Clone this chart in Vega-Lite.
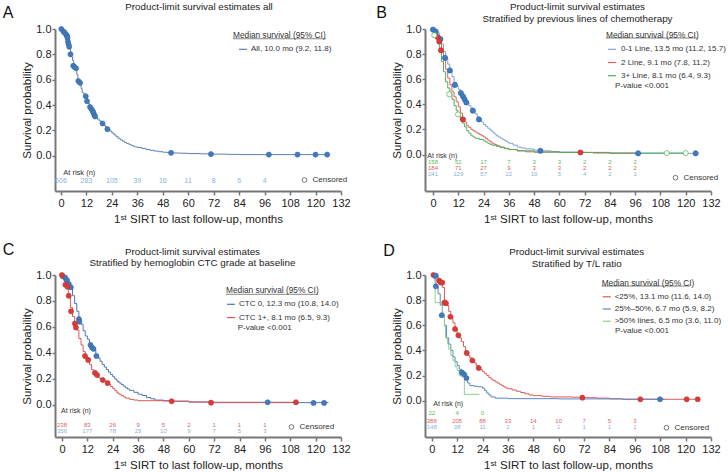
{
"$schema": "https://vega.github.io/schema/vega-lite/v6.json",
"background": "white",
"padding": {"left": 2, "top": 1, "right": 0, "bottom": 0},
"config": {
  "font": "Liberation Sans",
  "view": {"stroke": null},
  "axis": {"grid": false, "labelOverlap": false, "domainColor": "#777", "domainWidth": 2, "tickColor": "#777", "tickWidth": 1.5, "tickSize": 4, "labelFontSize": 11, "labelColor": "#222", "titleFontSize": 11.5, "titleFontWeight": "normal", "titleColor": "#222"},
  "axisX": {"labelPadding": 2, "titlePadding": 5, "labelFlush": false},
  "axisY": {"labelPadding": 1, "tickSize": 3, "titlePadding": 3},
  "title": {"fontSize": 9.8, "fontWeight": "normal", "color": "#222", "frame": "group", "lineHeight": 11.7},
  "legend": {"titleFontWeight": "normal", "titleFontSize": 8.3, "titleColor": "#333", "labelFontSize": 8, "labelColor": "#333", "padding": 0, "labelLimit": 400}
},
"datasets": {
  "Acurve": [
    {"g":"All","t":0,"s":1},{"g":"All","t":0.5,"s":0.99},{"g":"All","t":1,"s":0.985},{"g":"All","t":1.5,"s":0.975},{"g":"All","t":2,"s":0.96},{"g":"All","t":2.5,"s":0.95},{"g":"All","t":3,"s":0.93},{"g":"All","t":3.5,"s":0.89},{"g":"All","t":4,"s":0.86},{"g":"All","t":4.5,"s":0.82},{"g":"All","t":5,"s":0.78},{"g":"All","t":5.5,"s":0.75},{"g":"All","t":6,"s":0.715},{"g":"All","t":6.5,"s":0.7},{"g":"All","t":7,"s":0.68},{"g":"All","t":7.5,"s":0.64},{"g":"All","t":8,"s":0.6},{"g":"All","t":8.5,"s":0.585},{"g":"All","t":9,"s":0.57},{"g":"All","t":9.5,"s":0.53},{"g":"All","t":10,"s":0.5},{"g":"All","t":10.5,"s":0.495},{"g":"All","t":11,"s":0.48},{"g":"All","t":11.5,"s":0.47},{"g":"All","t":12,"s":0.455},{"g":"All","t":12.5,"s":0.43},{"g":"All","t":13,"s":0.41},{"g":"All","t":13.5,"s":0.39},{"g":"All","t":14,"s":0.375},{"g":"All","t":14.5,"s":0.36},{"g":"All","t":15,"s":0.345},{"g":"All","t":15.5,"s":0.33},{"g":"All","t":16,"s":0.31},{"g":"All","t":17,"s":0.29},{"g":"All","t":18,"s":0.275},{"g":"All","t":19,"s":0.26},{"g":"All","t":20,"s":0.24},{"g":"All","t":21,"s":0.225},{"g":"All","t":22,"s":0.21},{"g":"All","t":23,"s":0.195},{"g":"All","t":24,"s":0.18},{"g":"All","t":25,"s":0.165},{"g":"All","t":26,"s":0.15},{"g":"All","t":27,"s":0.137},{"g":"All","t":28,"s":0.125},{"g":"All","t":29,"s":0.115},{"g":"All","t":30,"s":0.105},{"g":"All","t":31,"s":0.097},{"g":"All","t":32,"s":0.09},{"g":"All","t":33,"s":0.082},{"g":"All","t":34,"s":0.075},{"g":"All","t":35,"s":0.07},{"g":"All","t":36,"s":0.065},{"g":"All","t":38,"s":0.058},{"g":"All","t":40,"s":0.05},{"g":"All","t":42,"s":0.043},{"g":"All","t":44,"s":0.037},{"g":"All","t":46,"s":0.032},{"g":"All","t":48,"s":0.028},{"g":"All","t":50,"s":0.025},{"g":"All","t":53,"s":0.022},{"g":"All","t":56,"s":0.02},{"g":"All","t":60,"s":0.017},{"g":"All","t":66,"s":0.015},{"g":"All","t":72,"s":0.013},{"g":"All","t":78,"s":0.011},{"g":"All","t":84,"s":0.009},{"g":"All","t":126,"s":0.009}
  ],
  "Acens": [
    {"g":"All","t":0.2,"s":1},{"g":"All","t":1.2,"s":0.98},{"g":"All","t":1.8,"s":0.97},{"g":"All","t":2.5,"s":0.955},{"g":"All","t":2.9,"s":0.945},{"g":"All","t":3.1,"s":0.93},{"g":"All","t":3.3,"s":0.9},{"g":"All","t":3.6,"s":0.88},{"g":"All","t":3.9,"s":0.86},{"g":"All","t":4.5,"s":0.8},{"g":"All","t":5.8,"s":0.71},{"g":"All","t":6.4,"s":0.7},{"g":"All","t":7.1,"s":0.69},{"g":"All","t":8.2,"s":0.59},{"g":"All","t":9,"s":0.575},{"g":"All","t":11.7,"s":0.47},{"g":"All","t":12.3,"s":0.43},{"g":"All","t":13.7,"s":0.385},{"g":"All","t":14.3,"s":0.37},{"g":"All","t":14.9,"s":0.355},{"g":"All","t":15.3,"s":0.34},{"g":"All","t":15.8,"s":0.32},{"g":"All","t":16.1,"s":0.31},{"g":"All","t":19.6,"s":0.255},{"g":"All","t":21.9,"s":0.21},{"g":"All","t":51.9,"s":0.023},{"g":"All","t":70.7,"s":0.013},{"g":"All","t":98,"s":0.009},{"g":"All","t":111.5,"s":0.009},{"g":"All","t":120,"s":0.009},{"g":"All","t":125.5,"s":0.009}
  ],
  "Arisk": [
    {"g":"All","t":0,"n":606},{"g":"All","t":12,"n":283},{"g":"All","t":24,"n":105},{"g":"All","t":36,"n":39},{"g":"All","t":48,"n":16},{"g":"All","t":60,"n":11},{"g":"All","t":72,"n":8},{"g":"All","t":84,"n":6},{"g":"All","t":96,"n":4}
  ],
  "Bcurve": [
    {"g":"0-1 Line","t":0,"s":1},{"g":"0-1 Line","t":1,"s":0.99},{"g":"0-1 Line","t":2,"s":0.97},{"g":"0-1 Line","t":3,"s":0.94},{"g":"0-1 Line","t":3.5,"s":0.92},{"g":"0-1 Line","t":4,"s":0.88},{"g":"0-1 Line","t":5,"s":0.82},{"g":"0-1 Line","t":6,"s":0.77},{"g":"0-1 Line","t":7,"s":0.72},{"g":"0-1 Line","t":8,"s":0.67},{"g":"0-1 Line","t":9,"s":0.62},{"g":"0-1 Line","t":10,"s":0.575},{"g":"0-1 Line","t":11,"s":0.545},{"g":"0-1 Line","t":12,"s":0.52},{"g":"0-1 Line","t":13,"s":0.5},{"g":"0-1 Line","t":14,"s":0.47},{"g":"0-1 Line","t":15,"s":0.44},{"g":"0-1 Line","t":16,"s":0.415},{"g":"0-1 Line","t":17,"s":0.39},{"g":"0-1 Line","t":18,"s":0.37},{"g":"0-1 Line","t":19,"s":0.35},{"g":"0-1 Line","t":20,"s":0.325},{"g":"0-1 Line","t":21,"s":0.3},{"g":"0-1 Line","t":22,"s":0.28},{"g":"0-1 Line","t":23,"s":0.26},{"g":"0-1 Line","t":24,"s":0.24},{"g":"0-1 Line","t":25,"s":0.225},{"g":"0-1 Line","t":26,"s":0.21},{"g":"0-1 Line","t":27,"s":0.195},{"g":"0-1 Line","t":28,"s":0.18},{"g":"0-1 Line","t":29,"s":0.165},{"g":"0-1 Line","t":30,"s":0.15},{"g":"0-1 Line","t":31,"s":0.14},{"g":"0-1 Line","t":32,"s":0.13},{"g":"0-1 Line","t":33,"s":0.12},{"g":"0-1 Line","t":34,"s":0.11},{"g":"0-1 Line","t":35,"s":0.1},{"g":"0-1 Line","t":36,"s":0.09},{"g":"0-1 Line","t":38,"s":0.075},{"g":"0-1 Line","t":40,"s":0.06},{"g":"0-1 Line","t":42,"s":0.052},{"g":"0-1 Line","t":44,"s":0.045},{"g":"0-1 Line","t":48,"s":0.035},{"g":"0-1 Line","t":52,"s":0.03},{"g":"0-1 Line","t":56,"s":0.025},{"g":"0-1 Line","t":60,"s":0.02},{"g":"0-1 Line","t":72,"s":0.017},{"g":"0-1 Line","t":84,"s":0.012},{"g":"0-1 Line","t":96,"s":0.01},{"g":"0-1 Line","t":126,"s":0.01},
    {"g":"2 Line","t":0,"s":1},{"g":"2 Line","t":1,"s":0.97},{"g":"2 Line","t":2,"s":0.94},{"g":"2 Line","t":3,"s":0.9},{"g":"2 Line","t":4,"s":0.83},{"g":"2 Line","t":5,"s":0.75},{"g":"2 Line","t":6,"s":0.68},{"g":"2 Line","t":7,"s":0.61},{"g":"2 Line","t":8,"s":0.555},{"g":"2 Line","t":9,"s":0.5},{"g":"2 Line","t":10,"s":0.46},{"g":"2 Line","t":11,"s":0.42},{"g":"2 Line","t":12,"s":0.38},{"g":"2 Line","t":13,"s":0.33},{"g":"2 Line","t":14,"s":0.29},{"g":"2 Line","t":15,"s":0.26},{"g":"2 Line","t":16,"s":0.23},{"g":"2 Line","t":17,"s":0.215},{"g":"2 Line","t":18,"s":0.2},{"g":"2 Line","t":19,"s":0.19},{"g":"2 Line","t":20,"s":0.18},{"g":"2 Line","t":21,"s":0.17},{"g":"2 Line","t":22,"s":0.16},{"g":"2 Line","t":23,"s":0.15},{"g":"2 Line","t":24,"s":0.14},{"g":"2 Line","t":25,"s":0.127},{"g":"2 Line","t":26,"s":0.115},{"g":"2 Line","t":27,"s":0.102},{"g":"2 Line","t":28,"s":0.09},{"g":"2 Line","t":29,"s":0.082},{"g":"2 Line","t":30,"s":0.075},{"g":"2 Line","t":31,"s":0.067},{"g":"2 Line","t":32,"s":0.06},{"g":"2 Line","t":34,"s":0.05},{"g":"2 Line","t":36,"s":0.04},{"g":"2 Line","t":40,"s":0.03},{"g":"2 Line","t":44,"s":0.022},{"g":"2 Line","t":48,"s":0.02},{"g":"2 Line","t":60,"s":0.017},{"g":"2 Line","t":72,"s":0.017},{"g":"2 Line","t":76,"s":0.012},{"g":"2 Line","t":84,"s":0.01},{"g":"2 Line","t":96,"s":0.01},
    {"g":"3+ Line","t":0,"s":1},{"g":"3+ Line","t":0.5,"s":0.96},{"g":"3+ Line","t":1,"s":0.94},{"g":"3+ Line","t":2,"s":0.89},{"g":"3+ Line","t":3,"s":0.82},{"g":"3+ Line","t":4,"s":0.74},{"g":"3+ Line","t":5,"s":0.66},{"g":"3+ Line","t":6,"s":0.58},{"g":"3+ Line","t":7,"s":0.53},{"g":"3+ Line","t":8,"s":0.49},{"g":"3+ Line","t":9,"s":0.44},{"g":"3+ Line","t":10,"s":0.39},{"g":"3+ Line","t":11,"s":0.35},{"g":"3+ Line","t":12,"s":0.32},{"g":"3+ Line","t":13,"s":0.28},{"g":"3+ Line","t":14,"s":0.25},{"g":"3+ Line","t":15,"s":0.22},{"g":"3+ Line","t":16,"s":0.19},{"g":"3+ Line","t":17,"s":0.17},{"g":"3+ Line","t":18,"s":0.15},{"g":"3+ Line","t":19,"s":0.14},{"g":"3+ Line","t":20,"s":0.13},{"g":"3+ Line","t":22,"s":0.12},{"g":"3+ Line","t":24,"s":0.11},{"g":"3+ Line","t":25,"s":0.1},{"g":"3+ Line","t":26,"s":0.09},{"g":"3+ Line","t":27,"s":0.082},{"g":"3+ Line","t":28,"s":0.075},{"g":"3+ Line","t":30,"s":0.065},{"g":"3+ Line","t":32,"s":0.055},{"g":"3+ Line","t":34,"s":0.047},{"g":"3+ Line","t":36,"s":0.04},{"g":"3+ Line","t":40,"s":0.03},{"g":"3+ Line","t":48,"s":0.02},{"g":"3+ Line","t":60,"s":0.017},{"g":"3+ Line","t":84,"s":0.012},{"g":"3+ Line","t":120,"s":0.012}
  ],
  "Bcens": [
    {"g":"0-1 Line","t":0,"s":0.995},{"g":"0-1 Line","t":1.3,"s":0.98},{"g":"0-1 Line","t":3.5,"s":0.92},{"g":"0-1 Line","t":5.7,"s":0.77},{"g":"0-1 Line","t":8,"s":0.67},{"g":"0-1 Line","t":10.4,"s":0.555},{"g":"0-1 Line","t":13.2,"s":0.49},{"g":"0-1 Line","t":14.2,"s":0.465},{"g":"0-1 Line","t":15,"s":0.44},{"g":"0-1 Line","t":15.8,"s":0.415},{"g":"0-1 Line","t":18.9,"s":0.35},{"g":"0-1 Line","t":21.8,"s":0.28},{"g":"0-1 Line","t":51,"s":0.03},{"g":"0-1 Line","t":97.4,"s":0.01},{"g":"0-1 Line","t":124.7,"s":0.01},
    {"g":"2 Line","t":2.2,"s":0.936},{"g":"2 Line","t":3,"s":0.9},{"g":"2 Line","t":3.8,"s":0.83},{"g":"2 Line","t":14.2,"s":0.28},{"g":"2 Line","t":70,"s":0.017},
    {"g":"3+ Line","t":0.6,"s":0.95},{"g":"3+ Line","t":7.7,"s":0.48},{"g":"3+ Line","t":11.9,"s":0.32},{"g":"3+ Line","t":111,"s":0.012},{"g":"3+ Line","t":120,"s":0.012}
  ],
  "Brisk": [
    {"g":"3+ Line","t":0,"n":158},{"g":"3+ Line","t":12,"n":52},{"g":"3+ Line","t":24,"n":17},{"g":"3+ Line","t":36,"n":7},{"g":"3+ Line","t":48,"n":3},{"g":"3+ Line","t":60,"n":3},{"g":"3+ Line","t":72,"n":2},{"g":"3+ Line","t":84,"n":2},{"g":"3+ Line","t":96,"n":2},
    {"g":"2 Line","t":0,"n":184},{"g":"2 Line","t":12,"n":71},{"g":"2 Line","t":24,"n":27},{"g":"2 Line","t":36,"n":9},{"g":"2 Line","t":48,"n":3},{"g":"2 Line","t":60,"n":3},{"g":"2 Line","t":72,"n":2},{"g":"2 Line","t":84,"n":2},{"g":"2 Line","t":96,"n":2},
    {"g":"0-1 Line","t":0,"n":241},{"g":"0-1 Line","t":12,"n":129},{"g":"0-1 Line","t":24,"n":57},{"g":"0-1 Line","t":36,"n":22},{"g":"0-1 Line","t":48,"n":10},{"g":"0-1 Line","t":60,"n":5},{"g":"0-1 Line","t":72,"n":4},{"g":"0-1 Line","t":84,"n":2},{"g":"0-1 Line","t":96,"n":2}
  ],
  "Ccurve": [
    {"g":"CTC 0","t":0,"s":1},{"g":"CTC 0","t":1,"s":0.99},{"g":"CTC 0","t":2,"s":0.97},{"g":"CTC 0","t":3,"s":0.94},{"g":"CTC 0","t":4,"s":0.9},{"g":"CTC 0","t":5,"s":0.84},{"g":"CTC 0","t":6,"s":0.78},{"g":"CTC 0","t":7,"s":0.72},{"g":"CTC 0","t":8,"s":0.66},{"g":"CTC 0","t":9,"s":0.62},{"g":"CTC 0","t":10,"s":0.57},{"g":"CTC 0","t":11,"s":0.53},{"g":"CTC 0","t":12,"s":0.505},{"g":"CTC 0","t":13,"s":0.475},{"g":"CTC 0","t":14,"s":0.445},{"g":"CTC 0","t":15,"s":0.42},{"g":"CTC 0","t":16,"s":0.385},{"g":"CTC 0","t":17,"s":0.36},{"g":"CTC 0","t":18,"s":0.335},{"g":"CTC 0","t":19,"s":0.31},{"g":"CTC 0","t":20,"s":0.29},{"g":"CTC 0","t":21,"s":0.27},{"g":"CTC 0","t":22,"s":0.25},{"g":"CTC 0","t":23,"s":0.232},{"g":"CTC 0","t":24,"s":0.215},{"g":"CTC 0","t":25,"s":0.197},{"g":"CTC 0","t":26,"s":0.18},{"g":"CTC 0","t":27,"s":0.167},{"g":"CTC 0","t":28,"s":0.155},{"g":"CTC 0","t":29,"s":0.142},{"g":"CTC 0","t":30,"s":0.13},{"g":"CTC 0","t":31,"s":0.12},{"g":"CTC 0","t":32,"s":0.11},{"g":"CTC 0","t":34,"s":0.095},{"g":"CTC 0","t":36,"s":0.08},{"g":"CTC 0","t":38,"s":0.07},{"g":"CTC 0","t":40,"s":0.055},{"g":"CTC 0","t":42,"s":0.045},{"g":"CTC 0","t":44,"s":0.035},{"g":"CTC 0","t":48,"s":0.03},{"g":"CTC 0","t":52,"s":0.026},{"g":"CTC 0","t":60,"s":0.02},{"g":"CTC 0","t":72,"s":0.018},{"g":"CTC 0","t":96,"s":0.018},{"g":"CTC 0","t":110,"s":0.015},{"g":"CTC 0","t":126,"s":0.013},
    {"g":"CTC 1+","t":0,"s":1},{"g":"CTC 1+","t":1,"s":0.95},{"g":"CTC 1+","t":2,"s":0.91},{"g":"CTC 1+","t":3,"s":0.85},{"g":"CTC 1+","t":4,"s":0.75},{"g":"CTC 1+","t":5,"s":0.68},{"g":"CTC 1+","t":6,"s":0.63},{"g":"CTC 1+","t":7,"s":0.575},{"g":"CTC 1+","t":8,"s":0.51},{"g":"CTC 1+","t":9,"s":0.46},{"g":"CTC 1+","t":10,"s":0.41},{"g":"CTC 1+","t":11,"s":0.37},{"g":"CTC 1+","t":12,"s":0.35},{"g":"CTC 1+","t":13,"s":0.31},{"g":"CTC 1+","t":14,"s":0.27},{"g":"CTC 1+","t":15,"s":0.25},{"g":"CTC 1+","t":16,"s":0.23},{"g":"CTC 1+","t":17,"s":0.21},{"g":"CTC 1+","t":18,"s":0.2},{"g":"CTC 1+","t":19,"s":0.19},{"g":"CTC 1+","t":20,"s":0.18},{"g":"CTC 1+","t":21,"s":0.167},{"g":"CTC 1+","t":22,"s":0.155},{"g":"CTC 1+","t":23,"s":0.14},{"g":"CTC 1+","t":24,"s":0.125},{"g":"CTC 1+","t":25,"s":0.107},{"g":"CTC 1+","t":26,"s":0.09},{"g":"CTC 1+","t":27,"s":0.08},{"g":"CTC 1+","t":28,"s":0.07},{"g":"CTC 1+","t":29,"s":0.06},{"g":"CTC 1+","t":30,"s":0.05},{"g":"CTC 1+","t":32,"s":0.04},{"g":"CTC 1+","t":34,"s":0.035},{"g":"CTC 1+","t":36,"s":0.03},{"g":"CTC 1+","t":48,"s":0.028},{"g":"CTC 1+","t":52,"s":0.026},{"g":"CTC 1+","t":60,"s":0.02},{"g":"CTC 1+","t":70,"s":0.015},{"g":"CTC 1+","t":110,"s":0.015}
  ],
  "Ccens": [
    {"g":"CTC 0","t":0.4,"s":0.99},{"g":"CTC 0","t":1.5,"s":0.98},{"g":"CTC 0","t":2.4,"s":0.96},{"g":"CTC 0","t":3.2,"s":0.93},{"g":"CTC 0","t":4.2,"s":0.905},{"g":"CTC 0","t":8,"s":0.66},{"g":"CTC 0","t":8.2,"s":0.64},{"g":"CTC 0","t":13.5,"s":0.46},{"g":"CTC 0","t":14.2,"s":0.44},{"g":"CTC 0","t":14.9,"s":0.43},{"g":"CTC 0","t":16.3,"s":0.375},{"g":"CTC 0","t":97.3,"s":0.018},{"g":"CTC 0","t":119,"s":0.013},{"g":"CTC 0","t":124,"s":0.013},
    {"g":"CTC 1+","t":0,"s":1},{"g":"CTC 1+","t":1.6,"s":0.925},{"g":"CTC 1+","t":2.6,"s":0.91},{"g":"CTC 1+","t":3.2,"s":0.84},{"g":"CTC 1+","t":4.3,"s":0.72},{"g":"CTC 1+","t":6.1,"s":0.625},{"g":"CTC 1+","t":6.6,"s":0.595},{"g":"CTC 1+","t":10.9,"s":0.375},{"g":"CTC 1+","t":12.4,"s":0.345},{"g":"CTC 1+","t":15.6,"s":0.245},{"g":"CTC 1+","t":16.6,"s":0.228},{"g":"CTC 1+","t":19.3,"s":0.19},{"g":"CTC 1+","t":21.6,"s":0.166},{"g":"CTC 1+","t":51.9,"s":0.026},{"g":"CTC 1+","t":70.5,"s":0.015},{"g":"CTC 1+","t":110.7,"s":0.018}
  ],
  "Crisk": [
    {"g":"CTC 1+","t":0,"n":238},{"g":"CTC 1+","t":12,"n":83},{"g":"CTC 1+","t":24,"n":26},{"g":"CTC 1+","t":36,"n":9},{"g":"CTC 1+","t":48,"n":5},{"g":"CTC 1+","t":60,"n":2},{"g":"CTC 1+","t":72,"n":1},{"g":"CTC 1+","t":84,"n":1},{"g":"CTC 1+","t":96,"n":1},
    {"g":"CTC 0","t":0,"n":356},{"g":"CTC 0","t":12,"n":177},{"g":"CTC 0","t":24,"n":78},{"g":"CTC 0","t":36,"n":29},{"g":"CTC 0","t":48,"n":10},{"g":"CTC 0","t":60,"n":9},{"g":"CTC 0","t":72,"n":7},{"g":"CTC 0","t":84,"n":5},{"g":"CTC 0","t":96,"n":3}
  ],
  "Dcurve": [
    {"g":"<25%","t":0,"s":1},{"g":"<25%","t":2,"s":0.99},{"g":"<25%","t":3,"s":0.97},{"g":"<25%","t":4,"s":0.95},{"g":"<25%","t":5,"s":0.9},{"g":"<25%","t":6,"s":0.8},{"g":"<25%","t":7,"s":0.76},{"g":"<25%","t":8,"s":0.71},{"g":"<25%","t":9,"s":0.67},{"g":"<25%","t":10,"s":0.62},{"g":"<25%","t":11,"s":0.57},{"g":"<25%","t":12,"s":0.53},{"g":"<25%","t":13,"s":0.5},{"g":"<25%","t":14,"s":0.47},{"g":"<25%","t":15,"s":0.43},{"g":"<25%","t":16,"s":0.39},{"g":"<25%","t":17,"s":0.36},{"g":"<25%","t":18,"s":0.34},{"g":"<25%","t":19,"s":0.32},{"g":"<25%","t":20,"s":0.3},{"g":"<25%","t":21,"s":0.28},{"g":"<25%","t":22,"s":0.26},{"g":"<25%","t":23,"s":0.245},{"g":"<25%","t":24,"s":0.23},{"g":"<25%","t":25,"s":0.215},{"g":"<25%","t":26,"s":0.2},{"g":"<25%","t":27,"s":0.185},{"g":"<25%","t":28,"s":0.17},{"g":"<25%","t":29,"s":0.16},{"g":"<25%","t":30,"s":0.15},{"g":"<25%","t":31,"s":0.14},{"g":"<25%","t":32,"s":0.13},{"g":"<25%","t":33,"s":0.12},{"g":"<25%","t":34,"s":0.11},{"g":"<25%","t":35,"s":0.1},{"g":"<25%","t":36,"s":0.095},{"g":"<25%","t":38,"s":0.085},{"g":"<25%","t":40,"s":0.075},{"g":"<25%","t":42,"s":0.065},{"g":"<25%","t":44,"s":0.055},{"g":"<25%","t":46,"s":0.045},{"g":"<25%","t":48,"s":0.04},{"g":"<25%","t":52,"s":0.035},{"g":"<25%","t":56,"s":0.03},{"g":"<25%","t":66,"s":0.028},{"g":"<25%","t":72,"s":0.024},{"g":"<25%","t":78,"s":0.02},{"g":"<25%","t":84,"s":0.015},{"g":"<25%","t":90,"s":0.011},{"g":"<25%","t":126,"s":0.011},
    {"g":"25%–50%","t":0,"s":1},{"g":"25%–50%","t":1,"s":0.97},{"g":"25%–50%","t":2,"s":0.91},{"g":"25%–50%","t":3,"s":0.85},{"g":"25%–50%","t":4,"s":0.76},{"g":"25%–50%","t":5,"s":0.68},{"g":"25%–50%","t":6,"s":0.6},{"g":"25%–50%","t":7,"s":0.5},{"g":"25%–50%","t":8,"s":0.45},{"g":"25%–50%","t":9,"s":0.4},{"g":"25%–50%","t":10,"s":0.35},{"g":"25%–50%","t":11,"s":0.31},{"g":"25%–50%","t":12,"s":0.28},{"g":"25%–50%","t":13,"s":0.25},{"g":"25%–50%","t":14,"s":0.23},{"g":"25%–50%","t":15,"s":0.21},{"g":"25%–50%","t":16,"s":0.18},{"g":"25%–50%","t":17,"s":0.14},{"g":"25%–50%","t":18,"s":0.12},{"g":"25%–50%","t":20,"s":0.115},{"g":"25%–50%","t":22,"s":0.11},{"g":"25%–50%","t":24,"s":0.1},{"g":"25%–50%","t":25,"s":0.08},{"g":"25%–50%","t":26,"s":0.06},{"g":"25%–50%","t":27,"s":0.045},{"g":"25%–50%","t":28,"s":0.03},{"g":"25%–50%","t":30,"s":0.02},{"g":"25%–50%","t":36,"s":0.016},{"g":"25%–50%","t":60,"s":0.014},{"g":"25%–50%","t":90,"s":0.012},{"g":"25%–50%","t":110,"s":0.011},
    {"g":">50% lines","t":0,"s":1},{"g":">50% lines","t":1.2,"s":0.955},{"g":">50% lines","t":1.6,"s":0.78},{"g":">50% lines","t":4,"s":0.78},{"g":">50% lines","t":5,"s":0.68},{"g":">50% lines","t":6,"s":0.59},{"g":">50% lines","t":6.5,"s":0.5},{"g":">50% lines","t":7.5,"s":0.45},{"g":">50% lines","t":8,"s":0.41},{"g":">50% lines","t":9,"s":0.36},{"g":">50% lines","t":10,"s":0.32},{"g":">50% lines","t":11,"s":0.27},{"g":">50% lines","t":12,"s":0.24},{"g":">50% lines","t":13,"s":0.2},{"g":">50% lines","t":14,"s":0.19},{"g":">50% lines","t":15.4,"s":0.05},{"g":">50% lines","t":22.5,"s":0.05}
  ],
  "Dcens": [
    {"g":"<25%","t":0.8,"s":1},{"g":"<25%","t":3.5,"s":0.955},{"g":"<25%","t":4.2,"s":0.94},{"g":"<25%","t":5,"s":0.94},{"g":"<25%","t":6,"s":0.78},{"g":"<25%","t":6.7,"s":0.775},{"g":"<25%","t":8.8,"s":0.668},{"g":"<25%","t":11,"s":0.57},{"g":"<25%","t":12.6,"s":0.52},{"g":"<25%","t":16.5,"s":0.38},{"g":"<25%","t":19.2,"s":0.32},{"g":"<25%","t":22.2,"s":0.26},{"g":"<25%","t":71.2,"s":0.024},{"g":"<25%","t":98.6,"s":0.011},{"g":"<25%","t":120.5,"s":0.011},{"g":"<25%","t":125.7,"s":0.011},
    {"g":"25%–50%","t":1.9,"s":0.995},{"g":"25%–50%","t":1.9,"s":0.91},{"g":"25%–50%","t":4.7,"s":0.68},{"g":"25%–50%","t":14.2,"s":0.225},{"g":"25%–50%","t":15.3,"s":0.21},{"g":"25%–50%","t":16.4,"s":0.18},{"g":"25%–50%","t":107.9,"s":0.011}
  ],
  "Drisk": [
    {"g":">50% lines","t":0,"n":22},{"g":">50% lines","t":12,"n":4},{"g":">50% lines","t":24,"n":0},
    {"g":"<25%","t":0,"n":388},{"g":"<25%","t":12,"n":205},{"g":"<25%","t":24,"n":88},{"g":"<25%","t":36,"n":33},{"g":"<25%","t":48,"n":14},{"g":"<25%","t":60,"n":10},{"g":"<25%","t":72,"n":7},{"g":"<25%","t":84,"n":5},{"g":"<25%","t":96,"n":3},
    {"g":"25%–50%","t":0,"n":148},{"g":"25%–50%","t":12,"n":38},{"g":"25%–50%","t":24,"n":11},{"g":"25%–50%","t":36,"n":2},{"g":"25%–50%","t":48,"n":1},{"g":"25%–50%","t":60,"n":1},{"g":"25%–50%","t":72,"n":1},{"g":"25%–50%","t":84,"n":1},{"g":"25%–50%","t":96,"n":1}
  ]
},
"columns": 2,
"spacing": {"row": 84, "column": 84},
"bounds": "flush",
"resolve": {
  "scale": {"x": "independent", "y": "independent", "color": "independent", "fill": "independent", "stroke": "independent", "shape": "independent"},
  "legend": {"color": "independent", "fill": "independent", "stroke": "independent", "shape": "independent"},
  "axis": {"x": "independent", "y": "independent"}
},
"concat": [
  {
    "width": 286, "height": 162,
    "title": {"text": "Product-limit survival estimates all", "offset": -6.5, "dx": 1},
    "layer": [
      {"data": {"name": "Acurve"}, "mark": {"type": "line", "interpolate": "step-after", "strokeWidth": 1},
       "encoding": {
         "x": {"field": "t", "type": "quantitative", "scale": {"domain": [-2.8, 132], "nice": false, "zero": false}, "axis": {"values": [0,12,24,36,48,60,72,84,96,108,120,132], "tickCount": 20, "title": "1ˢᵗ SIRT to last follow-up, months"}},
         "y": {"field": "s", "type": "quantitative", "scale": {"domain": [-0.278, 1], "nice": false, "zero": false}, "axis": {"values": [0,0.2,0.4,0.6,0.8,1], "tickCount": 20, "format": ".1f", "title": "Survival probability"}},
         "color": {"field": "g", "type": "nominal", "scale": {"domain": ["All"], "range": ["#5b80b6"]}, "legend": {"orient": "none", "legendX": 178, "legendY": 2, "title": "Median survival (95% CI)", "symbolType": "stroke", "symbolSize": 64, "symbolStrokeWidth": 1.2, "symbolOffset": 5, "labelOffset": 3, "titlePadding": 5, "rowPadding": 4, "labelExpr": "'All, 10.0 mo (9.2, 11.8)'"}}
       }},
      {"data": {"name": "Acens"}, "mark": {"type": "point", "filled": true, "size": 26, "opacity": 1, "strokeWidth": 0.6},
       "encoding": {
         "x": {"field": "t", "type": "quantitative"},
         "y": {"field": "s", "type": "quantitative"},
         "fill": {"field": "g", "type": "nominal", "scale": {"domain": ["All"], "range": ["#4479bb"]}, "legend": null},
         "stroke": {"field": "g", "type": "nominal", "scale": {"domain": ["All"], "range": ["#356aa8"]}, "legend": null},
         "shape": {"datum": "Censored", "scale": {"range": ["circle"]}, "legend": {"orient": "none", "legendX": 245.5, "legendY": 147, "title": null, "symbolFillColor": "white", "symbolStrokeColor": "#555", "symbolStrokeWidth": 0.8, "symbolSize": 22, "labelOffset": 4, "labelFontSize": 8}}
       }},
      {"data": {"values": [{}]}, "mark": {"type": "rule", "color": "#555", "strokeWidth": 0.7},
       "encoding": {"x": {"datum": 81.1, "type": "quantitative"}, "x2": {"datum": 124.9}, "y": {"datum": 0.923, "type": "quantitative"}}},
      {"data": {"values": [{"label": "At risk (n)"}]}, "mark": {"type": "text", "align": "left", "baseline": "middle", "fontSize": 7.5, "color": "#333"},
       "encoding": {"x": {"datum": 1.1, "type": "quantitative"}, "y": {"datum": -0.133, "type": "quantitative"}, "text": {"field": "label"}}},
      {"data": {"name": "Arisk"}, "mark": {"type": "text", "align": "center", "baseline": "middle", "fontSize": 7, "color": "#8ab0dd"},
       "encoding": {"x": {"field": "t", "type": "quantitative"}, "y": {"datum": -0.199, "type": "quantitative"}, "text": {"field": "n"}}},
      {"data": {"values": [{"label": "A"}]}, "mark": {"type": "text", "align": "center", "baseline": "middle", "fontSize": 16, "color": "#111"},
       "encoding": {"x": {"datum": -24.95, "type": "quantitative"}, "y": {"datum": 1.126, "type": "quantitative"}, "text": {"field": "label"}}}
    ]
  },
  {
    "width": 286, "height": 162,
    "title": {"text": ["Product-limit survival estimates", "Stratified by previous lines of chemotherapy"], "offset": -18.8, "dx": 9.5},
    "layer": [
      {"data": {"name": "Bcurve"}, "mark": {"type": "line", "interpolate": "step-after", "strokeWidth": 1},
       "encoding": {
         "x": {"field": "t", "type": "quantitative", "scale": {"domain": [-3.8, 132], "nice": false, "zero": false}, "axis": {"values": [0,12,24,36,48,60,72,84,96,108,120,132], "tickCount": 20, "title": "1ˢᵗ SIRT to last follow-up, months"}},
         "y": {"field": "s", "type": "quantitative", "scale": {"domain": [-0.29, 1], "nice": false, "zero": false}, "axis": {"values": [0,0.2,0.4,0.6,0.8,1], "tickCount": 20, "format": ".1f", "title": "Survival probability"}},
         "color": {"field": "g", "type": "nominal", "scale": {"domain": ["0-1 Line", "2 Line", "3+ Line"], "range": ["#7fa3d6", "#e06060", "#4fae5f"]}, "legend": {"orient": "none", "legendX": 181, "legendY": 2, "title": "Median survival (95% CI)", "symbolType": "stroke", "symbolSize": 64, "symbolStrokeWidth": 1.2, "symbolOffset": 1, "labelOffset": 4, "titlePadding": 5, "rowPadding": 4.2, "labelExpr": "datum.label == '0-1 Line' ? '0-1 Line, 13.5 mo (11.2, 15.7)' : datum.label == '2 Line' ? '2 Line, 9.1 mo (7.8, 11.2)' : '3+ Line, 8.1 mo (6.4, 9.3)'"}}
       }},
      {"data": {"name": "Bcens"}, "mark": {"type": "point", "filled": true, "size": 26, "opacity": 1, "strokeWidth": 0.8},
       "encoding": {
         "x": {"field": "t", "type": "quantitative"},
         "y": {"field": "s", "type": "quantitative"},
         "fill": {"field": "g", "type": "nominal", "scale": {"domain": ["0-1 Line", "2 Line", "3+ Line"], "range": ["#3f7bc4", "#da3b3b", "#ffffff"]}, "legend": null},
         "stroke": {"field": "g", "type": "nominal", "scale": {"domain": ["0-1 Line", "2 Line", "3+ Line"], "range": ["#356aa8", "#c43030", "#5cb85c"]}, "legend": null},
         "shape": {"datum": "Censored", "scale": {"range": ["circle"]}, "legend": {"orient": "none", "legendX": 246.5, "legendY": 144.7, "title": null, "symbolFillColor": "white", "symbolStrokeColor": "#555", "symbolStrokeWidth": 0.8, "symbolSize": 22, "labelOffset": 4, "labelFontSize": 8}}
       }},
      {"data": {"values": [{}]}, "mark": {"type": "rule", "color": "#555", "strokeWidth": 0.7},
       "encoding": {"x": {"datum": 82.1, "type": "quantitative"}, "x2": {"datum": 125.8}, "y": {"datum": 0.928, "type": "quantitative"}}},
      {"data": {"values": [{"label": "P-value <0.001"}]}, "mark": {"type": "text", "align": "left", "baseline": "middle", "fontSize": 8, "color": "#333"},
       "encoding": {"x": {"datum": 86.4, "type": "quantitative"}, "y": {"datum": 0.546, "type": "quantitative"}, "text": {"field": "label"}}},
      {"data": {"values": [{"label": "At risk (n)"}]}, "mark": {"type": "text", "align": "left", "baseline": "middle", "fontSize": 7, "color": "#333"},
       "encoding": {"x": {"datum": -2.7, "type": "quantitative"}, "y": {"datum": -0.015, "type": "quantitative"}, "text": {"field": "label"}}},
      {"data": {"name": "Brisk"}, "transform": [{"filter": "datum.g == '3+ Line'"}], "mark": {"type": "text", "align": "center", "baseline": "middle", "fontSize": 6, "color": "#5cb85c"},
       "encoding": {"x": {"field": "t", "type": "quantitative"}, "y": {"datum": -0.063, "type": "quantitative"}, "text": {"field": "n"}}},
      {"data": {"name": "Brisk"}, "transform": [{"filter": "datum.g == '2 Line'"}], "mark": {"type": "text", "align": "center", "baseline": "middle", "fontSize": 6, "color": "#e06060"},
       "encoding": {"x": {"field": "t", "type": "quantitative"}, "y": {"datum": -0.11, "type": "quantitative"}, "text": {"field": "n"}}},
      {"data": {"name": "Brisk"}, "transform": [{"filter": "datum.g == '0-1 Line'"}], "mark": {"type": "text", "align": "center", "baseline": "middle", "fontSize": 6, "color": "#8ab0dd"},
       "encoding": {"x": {"field": "t", "type": "quantitative"}, "y": {"datum": -0.156, "type": "quantitative"}, "text": {"field": "n"}}},
      {"data": {"values": [{"label": "B"}]}, "mark": {"type": "text", "align": "center", "baseline": "middle", "fontSize": 16, "color": "#111"},
       "encoding": {"x": {"datum": -24.4, "type": "quantitative"}, "y": {"datum": 1.127, "type": "quantitative"}, "text": {"field": "label"}}}
    ]
  },
  {
    "width": 286, "height": 162,
    "title": {"text": ["Product-limit survival estimates", "Stratified by hemoglobin CTC grade at baseline"], "offset": -26.2, "dx": -5.5},
    "layer": [
      {"data": {"name": "Ccurve"}, "mark": {"type": "line", "interpolate": "step-after", "strokeWidth": 1},
       "encoding": {
         "x": {"field": "t", "type": "quantitative", "scale": {"domain": [-3.3, 132], "nice": false, "zero": false}, "axis": {"values": [0,12,24,36,48,60,72,84,96,108,120,132], "tickCount": 20, "title": "1ˢᵗ SIRT to last follow-up, months"}},
         "y": {"field": "s", "type": "quantitative", "scale": {"domain": [-0.25, 1], "nice": false, "zero": false}, "axis": {"values": [0,0.2,0.4,0.6,0.8,1], "tickCount": 20, "format": ".1f", "title": "Survival probability"}},
         "color": {"field": "g", "type": "nominal", "scale": {"domain": ["CTC 0", "CTC 1+"], "range": ["#4d76b3", "#e05656"]}, "legend": {"orient": "none", "legendX": 171, "legendY": 11, "title": "Median survival (95% CI)", "symbolType": "stroke", "symbolSize": 64, "symbolStrokeWidth": 1.2, "symbolOffset": 0, "labelOffset": 3, "titlePadding": 5, "rowPadding": 4.3, "labelExpr": "datum.label == 'CTC 0' ? 'CTC 0, 12.3 mo (10.8, 14.0)' : 'CTC 1+, 8.1 mo (6.5, 9.3)'"}}
       }},
      {"data": {"name": "Ccens"}, "mark": {"type": "point", "filled": true, "size": 26, "opacity": 1, "strokeWidth": 0.6},
       "encoding": {
         "x": {"field": "t", "type": "quantitative"},
         "y": {"field": "s", "type": "quantitative"},
         "fill": {"field": "g", "type": "nominal", "scale": {"domain": ["CTC 0", "CTC 1+"], "range": ["#4479bb", "#d93b3b"]}, "legend": null},
         "stroke": {"field": "g", "type": "nominal", "scale": {"domain": ["CTC 0", "CTC 1+"], "range": ["#356aa8", "#c43030"]}, "legend": null},
         "shape": {"datum": "Censored", "scale": {"range": ["circle"]}, "legend": {"orient": "none", "legendX": 232.5, "legendY": 148, "title": null, "symbolFillColor": "white", "symbolStrokeColor": "#555", "symbolStrokeWidth": 0.8, "symbolSize": 22, "labelOffset": 4, "labelFontSize": 8}}
       }},
      {"data": {"values": [{}]}, "mark": {"type": "rule", "color": "#555", "strokeWidth": 0.7},
       "encoding": {"x": {"datum": 77.6, "type": "quantitative"}, "x2": {"datum": 121.1}, "y": {"datum": 0.851, "type": "quantitative"}}},
      {"data": {"values": [{"label": "P-value <0.001"}]}, "mark": {"type": "text", "align": "left", "baseline": "middle", "fontSize": 8, "color": "#333"},
       "encoding": {"x": {"datum": 83.1, "type": "quantitative"}, "y": {"datum": 0.591, "type": "quantitative"}, "text": {"field": "label"}}},
      {"data": {"values": [{"label": "At risk (n)"}]}, "mark": {"type": "text", "align": "left", "baseline": "middle", "fontSize": 7, "color": "#333"},
       "encoding": {"x": {"datum": -0.46, "type": "quantitative"}, "y": {"datum": -0.049, "type": "quantitative"}, "text": {"field": "label"}}},
      {"data": {"name": "Crisk"}, "transform": [{"filter": "datum.g == 'CTC 1+'"}], "mark": {"type": "text", "align": "center", "baseline": "middle", "fontSize": 6, "color": "#e06262"},
       "encoding": {"x": {"field": "t", "type": "quantitative"}, "y": {"datum": -0.157, "type": "quantitative"}, "text": {"field": "n"}}},
      {"data": {"name": "Crisk"}, "transform": [{"filter": "datum.g == 'CTC 0'"}], "mark": {"type": "text", "align": "center", "baseline": "middle", "fontSize": 6, "color": "#8ab0dd"},
       "encoding": {"x": {"field": "t", "type": "quantitative"}, "y": {"datum": -0.2, "type": "quantitative"}, "text": {"field": "n"}}},
      {"data": {"values": [{"label": "C"}]}, "mark": {"type": "text", "align": "center", "baseline": "middle", "fontSize": 16, "color": "#111"},
       "encoding": {"x": {"datum": -25.3, "type": "quantitative"}, "y": {"datum": 1.193, "type": "quantitative"}, "text": {"field": "label"}}}
    ]
  },
  {
    "width": 286, "height": 162,
    "title": {"text": ["Product-limit survival estimates", "Stratified by T/L ratio"], "offset": -25.2, "dx": 8.7},
    "layer": [
      {"data": {"name": "Dcurve"}, "mark": {"type": "line", "interpolate": "step-after", "strokeWidth": 1},
       "encoding": {
         "x": {"field": "t", "type": "quantitative", "scale": {"domain": [-3.2, 132], "nice": false, "zero": false}, "axis": {"values": [0,12,24,36,48,60,72,84,96,108,120,132], "tickCount": 20, "title": "1ˢᵗ SIRT to last follow-up, months"}},
         "y": {"field": "s", "type": "quantitative", "scale": {"domain": [-0.289, 1], "nice": false, "zero": false}, "axis": {"values": [0,0.2,0.4,0.6,0.8,1], "tickCount": 20, "format": ".1f", "title": "Survival probability"}},
         "color": {"field": "g", "type": "nominal", "scale": {"domain": ["<25%", "25%–50%", ">50% lines"], "range": ["#e05a5a", "#5a86c5", "#8fcf8f"]}, "legend": {"orient": "none", "legendX": 176.7, "legendY": 3.5, "title": "Median survival (95% CI)", "symbolType": "stroke", "symbolSize": 64, "symbolStrokeWidth": 1.2, "symbolOffset": 0, "labelOffset": 3, "titlePadding": 5, "rowPadding": 3.2, "labelExpr": "datum.label == '<25%' ? '<25%, 13.1 mo (11.6, 14.0)' : datum.label == '25%–50%' ? '25%–50%, 6.7 mo (5.9, 8.2)' : '>50% lines, 6.5 mo (3.6, 11.0)'"}}
       }},
      {"data": {"name": "Dcens"}, "mark": {"type": "point", "filled": true, "size": 26, "opacity": 1, "strokeWidth": 0.6},
       "encoding": {
         "x": {"field": "t", "type": "quantitative"},
         "y": {"field": "s", "type": "quantitative"},
         "fill": {"field": "g", "type": "nominal", "scale": {"domain": ["<25%", "25%–50%"], "range": ["#d93b3b", "#4479bb"]}, "legend": null},
         "stroke": {"field": "g", "type": "nominal", "scale": {"domain": ["<25%", "25%–50%"], "range": ["#c43030", "#356aa8"]}, "legend": null},
         "shape": {"datum": "Censored", "scale": {"range": ["circle"]}, "legend": {"orient": "none", "legendX": 237.5, "legendY": 148.7, "title": null, "symbolFillColor": "white", "symbolStrokeColor": "#555", "symbolStrokeWidth": 0.8, "symbolSize": 22, "labelOffset": 4, "labelFontSize": 8}}
       }},
      {"data": {"values": [{}]}, "mark": {"type": "rule", "color": "#555", "strokeWidth": 0.7},
       "encoding": {"x": {"datum": 80.3, "type": "quantitative"}, "x2": {"datum": 122.1}, "y": {"datum": 0.912, "type": "quantitative"}}},
      {"data": {"values": [{"label": "P-value <0.001"}]}, "mark": {"type": "text", "align": "left", "baseline": "middle", "fontSize": 8, "color": "#333"},
       "encoding": {"x": {"datum": 86.6, "type": "quantitative"}, "y": {"datum": 0.552, "type": "quantitative"}, "text": {"field": "label"}}},
      {"data": {"values": [{"label": "At risk (n)"}]}, "mark": {"type": "text", "align": "left", "baseline": "middle", "fontSize": 7, "color": "#333"},
       "encoding": {"x": {"datum": 0.7, "type": "quantitative"}, "y": {"datum": -0.029, "type": "quantitative"}, "text": {"field": "label"}}},
      {"data": {"name": "Drisk"}, "transform": [{"filter": "datum.g == '>50% lines'"}], "mark": {"type": "text", "align": "center", "baseline": "middle", "fontSize": 6, "color": "#5cb85c"},
       "encoding": {"x": {"field": "t", "type": "quantitative"}, "y": {"datum": -0.1, "type": "quantitative"}, "text": {"field": "n"}}},
      {"data": {"name": "Drisk"}, "transform": [{"filter": "datum.g == '<25%'"}], "mark": {"type": "text", "align": "center", "baseline": "middle", "fontSize": 6, "color": "#e06262"},
       "encoding": {"x": {"field": "t", "type": "quantitative"}, "y": {"datum": -0.158, "type": "quantitative"}, "text": {"field": "n"}}},
      {"data": {"name": "Drisk"}, "transform": [{"filter": "datum.g == '25%–50%'"}], "mark": {"type": "text", "align": "center", "baseline": "middle", "fontSize": 6, "color": "#8ab0dd"},
       "encoding": {"x": {"field": "t", "type": "quantitative"}, "y": {"datum": -0.206, "type": "quantitative"}, "text": {"field": "n"}}},
      {"data": {"values": [{"label": "D"}]}, "mark": {"type": "text", "align": "center", "baseline": "middle", "fontSize": 16, "color": "#111"},
       "encoding": {"x": {"datum": -20.2, "type": "quantitative"}, "y": {"datum": 1.19, "type": "quantitative"}, "text": {"field": "label"}}}
    ]
  }
]
}
